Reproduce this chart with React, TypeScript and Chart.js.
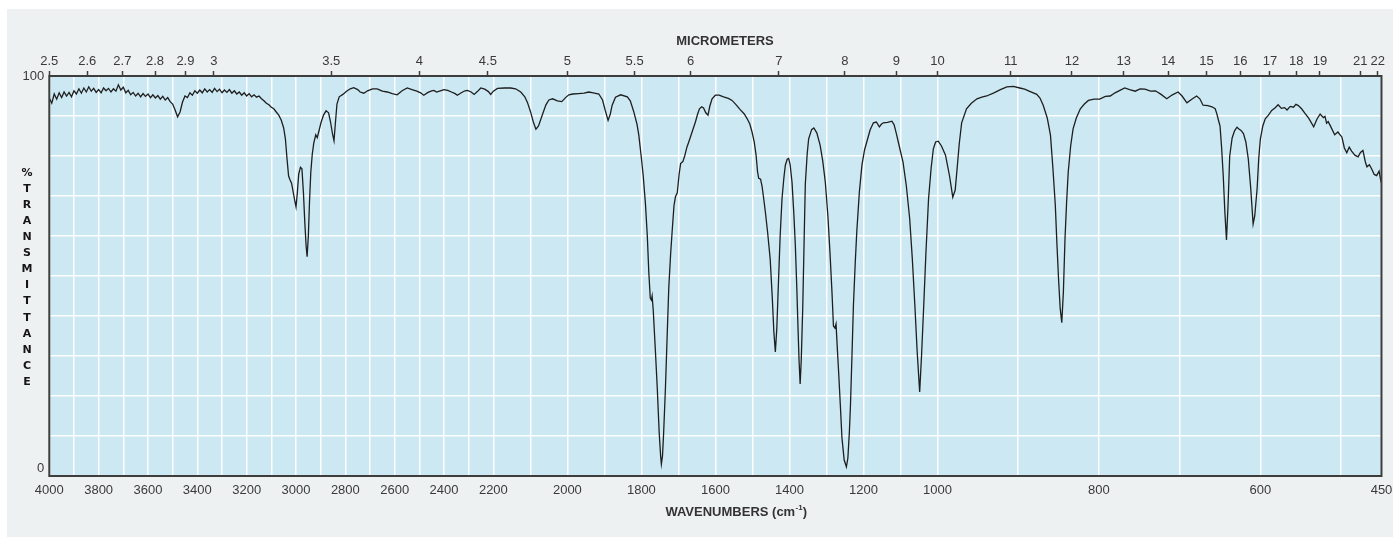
import React, { useEffect, useRef } from "react";
import { Chart, registerables } from "chart.js";

Chart.register(...registerables);

// ---- Spectrum data (wavenumber in cm^-1, % transmittance) ----
const WAVENUMBERS: number[] = [
  4000, 3990, 3980, 3970, 3960, 3950, 3940, 3930, 3920, 3910, 3900, 3890, 3880, 3870, 3860, 3850, 3840, 3830, 3820, 3810,
  3800, 3790, 3780, 3770, 3760, 3750, 3740, 3730, 3720, 3710, 3700, 3690, 3680, 3670, 3660, 3650, 3640, 3630, 3620, 3610,
  3600, 3590, 3580, 3570, 3560, 3550, 3540, 3530, 3520, 3510, 3500, 3490, 3480, 3470, 3460, 3450, 3440, 3430, 3420, 3410,
  3400, 3390, 3380, 3370, 3360, 3350, 3340, 3330, 3320, 3310, 3300, 3290, 3280, 3270, 3260, 3250, 3240, 3230, 3220, 3210,
  3200, 3190, 3180, 3170, 3160, 3150, 3140, 3130, 3120, 3110, 3100, 3090, 3080, 3070, 3060, 3050, 3043, 3036, 3030, 3024,
  3018, 3010, 3004, 3000, 2995, 2989, 2982, 2976, 2970, 2964, 2959, 2955, 2950, 2945, 2940, 2934, 2928, 2920, 2914, 2906,
  2898, 2888, 2878, 2868, 2860, 2852, 2846, 2840, 2834, 2825, 2810, 2795, 2780, 2766, 2750, 2740, 2725, 2710, 2690, 2671,
  2650, 2630, 2610, 2590, 2570, 2549, 2530, 2510, 2495, 2482, 2465, 2450, 2441, 2430, 2415, 2400, 2385, 2370, 2355, 2346,
  2330, 2315, 2305, 2290, 2278, 2265, 2251, 2235, 2220, 2211, 2200, 2189, 2170, 2153, 2140, 2126, 2115, 2108, 2100, 2092,
  2085, 2078, 2068, 2058, 2050, 2040, 2027, 2015, 2005, 1996, 1985, 1970, 1955, 1942, 1930, 1915, 1905, 1898, 1890, 1884,
  1879, 1870, 1856, 1838, 1830, 1821, 1812, 1807, 1800, 1795, 1789, 1784, 1780, 1776, 1773, 1771, 1768, 1762, 1757, 1752,
  1748, 1746, 1743, 1740, 1735, 1730, 1726, 1721, 1717, 1712, 1708, 1703, 1698, 1694, 1688, 1683, 1677, 1672, 1663, 1654,
  1648, 1643, 1637, 1632, 1626, 1620, 1615, 1609, 1600, 1590, 1578, 1565, 1555, 1545, 1533, 1522, 1514, 1507, 1501, 1495,
  1490, 1486, 1483, 1478, 1474, 1469, 1465, 1459, 1452, 1446, 1442, 1438, 1434, 1429, 1425, 1420, 1415, 1411, 1406, 1402,
  1398, 1393, 1388, 1384, 1380, 1377, 1374, 1371, 1368, 1364, 1360, 1357, 1352, 1348, 1340, 1334, 1326, 1317, 1310, 1303,
  1296, 1290, 1285, 1281, 1277, 1274, 1270, 1267, 1262, 1258, 1252, 1246, 1242, 1238, 1235, 1231, 1227, 1222, 1218, 1211,
  1204, 1197, 1191, 1182, 1173, 1165, 1157, 1151, 1146, 1135, 1123, 1117, 1111, 1102, 1093, 1084, 1075, 1068, 1061, 1055,
  1048, 1043, 1037, 1031, 1024, 1017, 1011, 1005, 999, 995, 990, 985, 981, 978, 976, 973, 970, 964, 958, 951,
  945, 939, 930, 922, 914, 906, 898, 892, 885, 877, 873, 869, 864, 860, 857, 854, 852, 850, 848, 846,
  844, 842, 840, 838, 835, 832, 828, 823, 818, 813, 806, 799, 792, 786, 780, 774, 768, 762, 755, 749,
  743, 736, 730, 723, 716, 709, 702, 697, 691, 685, 679, 675, 671, 665, 660, 656, 654, 652, 650, 648,
  646, 644, 642, 640, 638, 635, 632, 629, 627, 624, 621, 618, 615, 612, 609, 607, 604, 602, 600, 597,
  594, 590, 586, 582, 578, 574, 570, 567, 563, 559, 556, 553, 549, 545, 540, 534, 530, 526, 522, 520,
  518, 516, 513, 508, 504, 499, 496, 493, 490, 487, 483, 479, 476, 473, 470, 468, 465, 462, 459, 456,
  453, 451, 450,
];

const TRANSMITTANCE: number[] = [
  94.5, 93.2, 95.5, 94.2, 95.8, 94.6, 96.0, 95.0, 95.9, 94.8, 96.3, 95.5, 96.8, 95.7, 97.0, 96.0, 97.3, 96.2, 96.9, 95.9,
  96.6, 95.8, 97.0, 96.3, 96.9, 96.0, 96.8, 96.2, 97.8, 96.5, 97.2, 95.8, 96.4, 95.3, 95.9, 95.0, 95.7, 94.8, 95.6, 94.9,
  95.5, 94.6, 95.3, 94.5, 95.1, 94.2, 94.9, 94.0, 94.6, 93.6, 93.0, 91.5, 89.8, 91.0, 93.5, 95.0, 94.6, 95.8, 95.2, 96.3,
  95.7, 96.5, 95.8, 96.8, 96.0, 96.6, 95.9, 96.9, 96.1, 96.7, 95.8, 96.5, 95.9, 96.6, 95.7, 96.3, 95.5, 96.0, 95.2, 95.8,
  95.0, 95.6, 94.8, 95.3, 94.7, 95.0, 94.3, 93.8, 93.2, 92.8, 92.2, 91.8, 91.0, 90.2, 89.0, 87.0, 84.3, 79.0, 75.0, 74.0,
  73.2, 70.5, 68.5, 67.3, 70.5, 75.5, 77.2, 76.8, 71.0, 63.0, 57.5, 54.8, 60.0, 69.0, 76.0, 80.5, 83.2, 85.3, 84.6, 86.5,
  88.5, 90.3, 91.3, 90.8, 88.5, 85.5, 83.8, 88.5, 93.0, 94.8, 95.4, 96.2, 96.8, 97.1, 96.6, 96.0, 95.7, 96.3, 96.8, 96.8,
  96.2, 96.0, 95.6, 95.3, 96.3, 97.0, 96.6, 96.2, 95.8, 95.2, 95.9, 96.3, 96.4, 96.0, 96.3, 96.6, 96.4, 96.0, 95.6, 95.2,
  95.8, 96.3, 96.4, 96.0, 95.4, 96.1, 97.0, 96.7, 96.1, 95.4, 96.2, 96.9, 97.0, 97.0, 96.8, 96.0, 94.8, 93.4, 91.2, 88.5,
  86.7, 87.5, 90.2, 92.8, 94.0, 94.3, 93.8, 93.6, 94.6, 95.3, 95.5, 95.6, 95.7, 96.0, 95.8, 95.5, 94.0, 91.5, 88.9, 90.5,
  92.7, 94.7, 95.3, 94.8, 93.8, 91.2, 88.0, 85.2, 79.5, 75.0, 68.0, 60.0, 51.0, 44.5, 44.0, 45.0, 41.5, 31.0, 21.8, 11.0,
  5.0, 3.0, 5.0, 10.5, 22.0, 36.0, 47.0, 55.5, 61.0, 67.5, 69.8, 70.8, 75.5, 78.1, 78.6, 80.0, 82.2, 83.5, 86.0, 88.5,
  90.5, 91.8, 92.3, 92.0, 90.8, 90.2, 92.5, 94.3, 95.2, 95.2, 94.8, 94.4, 93.9, 92.9, 91.6, 90.5, 89.3, 88.0, 86.0, 83.5,
  80.2, 76.0, 74.4, 74.2, 72.5, 69.0, 66.0, 61.0, 54.3, 44.0, 36.0, 31.0, 37.0, 50.0, 60.0, 69.3, 74.5, 77.7, 79.2, 79.4,
  77.8, 73.5, 65.5, 57.7, 47.0, 37.7, 29.0, 23.0, 29.0, 42.0, 60.0, 73.0, 80.5, 84.3, 86.6, 87.0, 85.8, 82.7, 78.8, 73.5,
  65.0, 55.2, 46.0, 37.5, 37.0, 38.0, 31.0, 26.0, 17.0, 9.5, 4.0, 2.3, 4.5, 11.0, 17.7, 30.0, 42.7, 53.5, 61.0, 71.0,
  77.7, 81.5, 83.5, 86.5, 88.3, 88.5, 87.3, 88.0, 88.3, 88.4, 88.7, 87.8, 85.6, 82.0, 78.5, 72.5, 64.3, 54.5, 42.7, 31.5,
  21.0, 30.0, 42.7, 56.0, 69.3, 77.0, 81.8, 83.5, 83.7, 82.5, 80.2, 75.0, 69.7, 71.5, 76.0, 83.0, 88.3, 91.8, 93.2, 94.3,
  94.7, 95.0, 95.8, 96.6, 97.3, 97.4, 97.0, 96.7, 96.1, 95.4, 94.5, 92.7, 89.5, 85.2, 77.0, 67.7, 58.0, 49.3, 42.0, 38.3,
  46.0, 59.3, 68.5, 76.0, 82.5, 86.8, 89.5, 91.8, 93.0, 93.9, 94.2, 94.2, 94.9, 95.0, 95.8, 96.4, 97.0, 96.6, 96.2, 96.8,
  96.7, 96.2, 96.3, 95.4, 94.3, 95.3, 96.0, 95.0, 93.3, 94.2, 95.0, 94.3, 92.7, 92.6, 92.3, 91.8, 90.6, 89.0, 87.5, 82.0,
  75.0, 66.0, 59.0, 68.0, 80.0, 84.5, 86.3, 87.2, 86.8, 86.4, 85.6, 83.5, 79.3, 72.0, 63.0, 65.0, 72.0, 79.5, 84.3, 87.5,
  89.3, 90.2, 91.4, 92.0, 92.8, 91.9, 92.1, 91.5, 92.4, 92.2, 92.9, 92.6, 91.8, 90.7, 89.4, 87.3, 89.2, 90.5, 89.6, 89.9,
  88.2, 88.6, 87.4, 85.3, 86.0, 84.7, 82.0, 80.8, 82.2, 81.2, 80.2, 79.8, 80.9, 81.4, 78.5, 77.3, 77.8, 76.7, 75.4, 75.1,
  76.2, 74.0, 73.2,
];

// ---- Axis ticks ----
const X_GRID_WAVENUMBERS: number[] = [
  4000, 3900, 3800, 3700, 3600, 3500, 3400, 3300, 3200, 3100, 3000, 2900, 2800, 2700, 2600, 2500, 2400, 2300, 2200,
  2100, 2000, 1900, 1800, 1700, 1600, 1500, 1400, 1300, 1200, 1100, 1000,
  900, 800, 700, 600, 500, 450,
];
const X_TICK_LABELS: number[] = [
  4000, 3800, 3600, 3400, 3200, 3000, 2800, 2600, 2400, 2200, 2000, 1800, 1600, 1400, 1200, 1000, 800, 600, 450,
];
const MICROMETER_TICKS: number[] = [
  2.5, 2.6, 2.7, 2.8, 2.9, 3, 3.5, 4, 4.5, 5, 5.5, 6, 7, 8, 9, 10, 11, 12, 13, 14, 15, 16, 17, 18, 19, 21, 22,
];
const Y_TICK_LABELS: number[] = [0, 100];
const Y_TITLE = "%TRANSMITTANCE";

// Piecewise wavenumber axis: 4000-2200, 2200-1000 and 1000-450 each take one third of the width.
function pos(wn: number): number {
  if (wn >= 2200) return (4000 - wn) / 1800;
  if (wn >= 1000) return 1 + (2200 - wn) / 1200;
  return 2 + (1000 - wn) / 550;
}

const FONT = '"Liberation Sans", Arial, Helvetica, sans-serif';

const decorPlugin = {
  id: "irDecor",
  beforeDraw(chart: any) {
    const { ctx, chartArea: a, width, height } = chart;
    ctx.save();
    ctx.fillStyle = "#ffffff";
    ctx.fillRect(0, 0, width, height);
    ctx.fillStyle = "#eef1f2";
    ctx.fillRect(7, 9, width - 7, height - 9);
    ctx.fillStyle = "#cce8f2";
    ctx.fillRect(a.left, a.top, a.right - a.left, a.bottom - a.top);
    ctx.restore();
  },
  afterDraw(chart: any) {
    const { ctx, chartArea: a } = chart;
    ctx.save();
    // frame
    ctx.strokeStyle = "#3d3d3d";
    ctx.lineWidth = 2;
    ctx.strokeRect(a.left, a.top, a.right - a.left, a.bottom - a.top);

    // top title
    ctx.fillStyle = "#333333";
    ctx.textBaseline = "middle";
    ctx.textAlign = "center";
    ctx.font = `bold 13px ${FONT}`;
    ctx.fillText("MICROMETERS", 725, 41);

    // bottom title with superscript
    const main = "WAVENUMBERS (cm";
    const sup = "-1";
    const end = ")";
    ctx.font = `bold 13px ${FONT}`;
    const w1 = ctx.measureText(main).width;
    const w3 = ctx.measureText(end).width;
    ctx.font = `bold 8px ${FONT}`;
    const w2 = ctx.measureText(sup).width;
    const start = 736 - (w1 + w2 + w3) / 2;
    ctx.textAlign = "left";
    ctx.font = `bold 13px ${FONT}`;
    ctx.fillText(main, start, 512.5);
    ctx.fillText(end, start + w1 + w2 + 0.5, 512.5);
    ctx.font = `bold 8px ${FONT}`;
    ctx.fillText(sup, start + w1 + 0.3, 507.5);

    // vertical stacked y-axis title
    ctx.textAlign = "center";
    ctx.fillStyle = "#151515";
    ctx.font = 'bold 11px "DejaVu Sans", sans-serif';
    const letters = Y_TITLE.split("");
    letters.forEach((ch, i) => {
      ctx.fillText(ch, 27, 173 + i * 16.08);
    });
    ctx.restore();
  },
};

export default function App() {
  const canvasRef = useRef<HTMLCanvasElement | null>(null);

  useEffect(() => {
    if (!canvasRef.current) return;
    const points = WAVENUMBERS.map((wn, i) => ({ x: pos(wn), y: TRANSMITTANCE[i] }));
    const gridColor = "rgba(255,255,255,0.95)";

    const chart = new Chart(canvasRef.current, {
      type: "line",
      data: {
        datasets: [
          {
            data: points,
            borderColor: "#1e1e1e",
            borderWidth: 1.3,
            pointRadius: 0,
            tension: 0,
            fill: false,
            xAxisID: "x",
            yAxisID: "y",
          },
        ],
      },
      options: {
        responsive: false,
        animation: false,
        devicePixelRatio: 1,
        parsing: false,
        events: [],
        layout: { padding: { left: 0, right: 11.5, top: 0, bottom: 0 } },
        plugins: { legend: { display: false }, tooltip: { enabled: false } },
        scales: {
          x: {
            type: "linear",
            position: "bottom",
            min: 0,
            max: 3,
            afterBuildTicks: (axis: any) => {
              axis.ticks = X_GRID_WAVENUMBERS.map((wn) => ({ value: pos(wn) }));
            },
            afterFit: (axis: any) => {
              axis.height = 61;
              axis.paddingLeft = 0;
              axis.paddingRight = 0;
            },
            ticks: {
              autoSkip: false,
              maxRotation: 0,
              minRotation: 0,
              padding: 7,
              color: "#3a3a3a",
              font: { family: FONT, size: 13 },
              callback: (_v: any, i: number) => {
                const wn = X_GRID_WAVENUMBERS[i];
                return X_TICK_LABELS.includes(wn) ? String(wn) : "";
              },
            },
            grid: { color: gridColor, lineWidth: 1.5, drawTicks: false },
            border: { display: false },
          },
          xTop: {
            type: "linear",
            position: "top",
            min: 0,
            max: 3,
            afterBuildTicks: (axis: any) => {
              axis.ticks = MICROMETER_TICKS.map((um) => ({ value: pos(10000 / um) }));
            },
            afterFit: (axis: any) => {
              axis.height = 76;
              axis.paddingLeft = 0;
              axis.paddingRight = 0;
            },
            ticks: {
              autoSkip: false,
              maxRotation: 0,
              minRotation: 0,
              padding: 1.5,
              color: "#3a3a3a",
              font: { family: FONT, size: 13 },
              callback: (_v: any, i: number) => String(MICROMETER_TICKS[i]),
            },
            grid: {
              drawOnChartArea: false,
              drawTicks: true,
              tickLength: 5,
              color: "#3d3d3d",
              tickColor: "#3d3d3d",
              tickWidth: 1.5,
            },
            border: { display: false },
          },
          y: {
            type: "linear",
            min: 0,
            max: 100,
            afterFit: (axis: any) => {
              axis.width = 49.3;
            },
            ticks: {
              stepSize: 10,
              padding: 5,
              color: "#3a3a3a",
              font: { family: FONT, size: 13 },
              callback: (v: any) => {
                if (!Y_TICK_LABELS.includes(v)) return "";
                return v === 0 ? ["0", ""] : String(v);
              },
            },
            grid: { color: gridColor, lineWidth: 1.5, drawTicks: false },
            border: { display: false },
          },
        },
      } as any,
      plugins: [decorPlugin],
    });

    return () => {
      chart.destroy();
    };
  }, []);

  return (
    <div style={{ position: "fixed", left: 0, top: 0, width: 1393, height: 537 }}>
      <canvas ref={canvasRef} width={1393} height={537} style={{ display: "block" }} />
    </div>
  );
}
